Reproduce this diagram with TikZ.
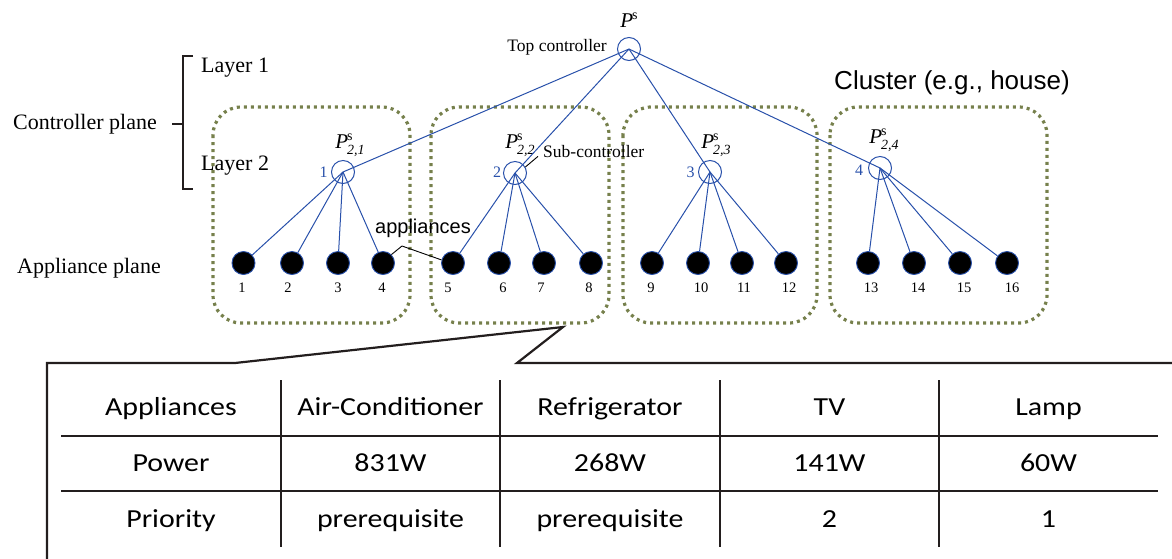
\documentclass[tikz,border=0pt]{standalone}
\usepackage{fontspec}
\setmainfont{Liberation Serif}
\newfontfamily\arialf{Liberation Sans}
\newfontfamily\calib{Carlito}
\definecolor{lineblue}{RGB}{40,80,170}
\definecolor{olivedot}{RGB}{118,128,76}
\definecolor{darkline}{RGB}{35,30,30}
\newcommand{\tb}[1]{\scalebox{1.15}[1]{\calib\fontsize{26}{30}\selectfont #1}}
\newcommand{\Plab}[1]{{\fontsize{21}{21}\selectfont\textit{P}\kern-1pt\makebox[0pt][l]{\raisebox{8.5pt}{\fontsize{14}{14}\selectfont s}}\raisebox{-5.5pt}{\fontsize{14}{14}\selectfont\textit{#1}}}}
\tikzset{
  cl/.style={draw=olivedot, line width=3.2pt, dash pattern=on 3pt off 4pt, rounded corners=28pt},
  bl/.style={draw=lineblue, line width=1pt},
  ctrl/.style={circle, draw=lineblue, line width=1pt, minimum size=23pt, inner sep=0pt},
  app/.style={circle, fill=black, draw=lineblue, line width=0.9pt, minimum size=23pt, inner sep=0pt},
  num/.style={font=\fontsize{14.5}{16}\selectfont, inner sep=0pt},
  bnum/.style={text=lineblue, font=\fontsize{16}{18}\selectfont, inner sep=0pt},
  big/.style={font=\fontsize{22}{26}\selectfont, inner sep=0pt},
  mid/.style={font=\fontsize{17.5}{20}\selectfont, inner sep=0pt},
  frame/.style={draw=darkline, line width=2.2pt},
  grid/.style={draw=darkline, line width=1.6pt},
  cell/.style={inner sep=0pt, anchor=base}
}
\begin{document}
\begin{tikzpicture}[x=1pt,y=-1pt]
\useasboundingbox (0,0) rectangle (1172,558);
% clusters
\draw[cl] (213,107) rectangle (410,323);
\draw[cl] (431,107) rectangle (609,323);
\draw[cl] (623,107) rectangle (817,323);
\draw[cl] (830,107) rectangle (1047,323);
% left labels and bracket
\node[big, anchor=west] (cp) at (13,124) {Controller plane};
\node[big, anchor=west] (l1) at (201,68) {Layer 1};
\node[big, anchor=west] (l2) at (201,166) {Layer 2};
\node[big, anchor=west] (ap) at (17,268) {Appliance plane};
\coordinate (bt) at (193,56);
\coordinate (bb) at (193,189);
\coordinate (bm) at (172,124);
\draw[darkline, line width=1.5pt] (bt) -- (183,56) -- (183,189) -- (bb);
\draw[darkline, line width=1.5pt] (bm) -- (183,124);
% top controller
\node[ctrl] (top) at (629,49) {};
\node[inner sep=0pt] (ptop) at (629,20) {\fontsize{21}{21}\selectfont\textit{P}\kern-1pt\raisebox{8.5pt}{\fontsize{14}{14}\selectfont s}};
\node[mid, anchor=east] (toplab) at (607,47) {Top controller};
% sub controllers
\node[ctrl] (s1) at (343,172) {};
\node[ctrl] (s2) at (515,173) {};
\node[ctrl] (s3) at (710,172) {};
\node[ctrl] (s4) at (880,168) {};
\node[inner sep=0pt] (p1) at (350,145) {\Plab{2,1}};
\node[inner sep=0pt] (p2) at (520,145) {\Plab{2,2}};
\node[inner sep=0pt] (p3) at (716,145) {\Plab{2,3}};
\node[inner sep=0pt] (p4) at (884,140) {\Plab{2,4}};
\node[bnum] (n1) at (323.5,172) {1};
\node[bnum] (n2) at (497,172) {2};
\node[bnum] (n3) at (690.5,172) {3};
\node[bnum] (n4) at (859,170) {4};
\node[mid, anchor=west] (sublab) at (543,152) {Sub-controller};
\draw[black, line width=0.9pt] (sublab.south west) ++(-5,-2) coordinate (sl) -- (s2.30);
% top lines
\foreach \s in {s1,s2,s3,s4} \draw[bl] (top.center) -- (\s.center);
% appliances
\foreach \i/\x in {1/243.5,2/292,3/338,4/383,5/453,6/499,7/544,8/591,9/652,10/698,11/742,12/786,13/868,14/914,15/960,16/1007}
  \node[app] (a\i) at (\x,263) {};
\foreach \i/\x in {1/242,2/288,3/338,4/382,5/448,6/503,7/541,8/589,9/651,10/701,11/744,12/789,13/871,14/918,15/964,16/1012}
  \node[num] (t\i) at (\x,288) {\i};
\foreach \s/\a in {s1/1,s1/2,s1/3,s1/4,s2/5,s2/6,s2/7,s2/8,s3/9,s3/10,s3/11,s3/12,s4/13,s4/14,s4/15,s4/16}
  \draw[bl] (\s.center) -- (a\a);
% appliances label
\node[inner sep=0pt, font=\arialf\fontsize{20}{22}\selectfont] (applab) at (423,228) {appliances};
\coordinate (ak) at (402,246);
\draw[black, line width=0.9pt] (a4.45) -- (ak) -- (a5.165);
% cluster label
\node[inner sep=0pt, font=\arialf\fontsize{26}{28}\selectfont] (clab) at (952,83) {Cluster (e.g., house)};
% callout
\coordinate (c0) at (47,560);
\coordinate (c1) at (47,363);
\coordinate (c2) at (235,363);
\coordinate (c3) at (563,327);
\coordinate (c4) at (517,363);
\coordinate (c5) at (1174,363);
\draw[frame, line join=miter] (c0) -- (c1) -- (c2) -- (c3) -- (c4) -- (c5);
% table grid
\foreach \x in {281,500,720,939} \draw[grid] (\x,380) -- (\x,547);
\draw[grid] (61,436) -- (1158,436);
\draw[grid] (61,491) -- (1158,491);
% table cells
\node[cell] (h0) at (171,415) {\tb{Appliances}};
\node[cell] (h1) at (390.5,415) {\tb{Air-Conditioner}};
\node[cell] (h2) at (610,415) {\tb{Refrigerator}};
\node[cell] (h3) at (829.5,415) {\tb{TV}};
\node[cell] (h4) at (1048.5,415) {\tb{Lamp}};
\node[cell] (r0) at (171,471) {\tb{Power}};
\node[cell] (r1) at (390.5,471) {\tb{831W}};
\node[cell] (r2) at (610,471) {\tb{268W}};
\node[cell] (r3) at (829.5,471) {\tb{141W}};
\node[cell] (r4) at (1048.5,471) {\tb{60W}};
\node[cell] (q0) at (171,527) {\tb{Priority}};
\node[cell] (q1) at (390.5,527) {\tb{prerequisite}};
\node[cell] (q2) at (610,527) {\tb{prerequisite}};
\node[cell] (q3) at (829.5,527) {\tb{2}};
\node[cell] (q4) at (1048.5,527) {\tb{1}};
\end{tikzpicture}
\end{document}
